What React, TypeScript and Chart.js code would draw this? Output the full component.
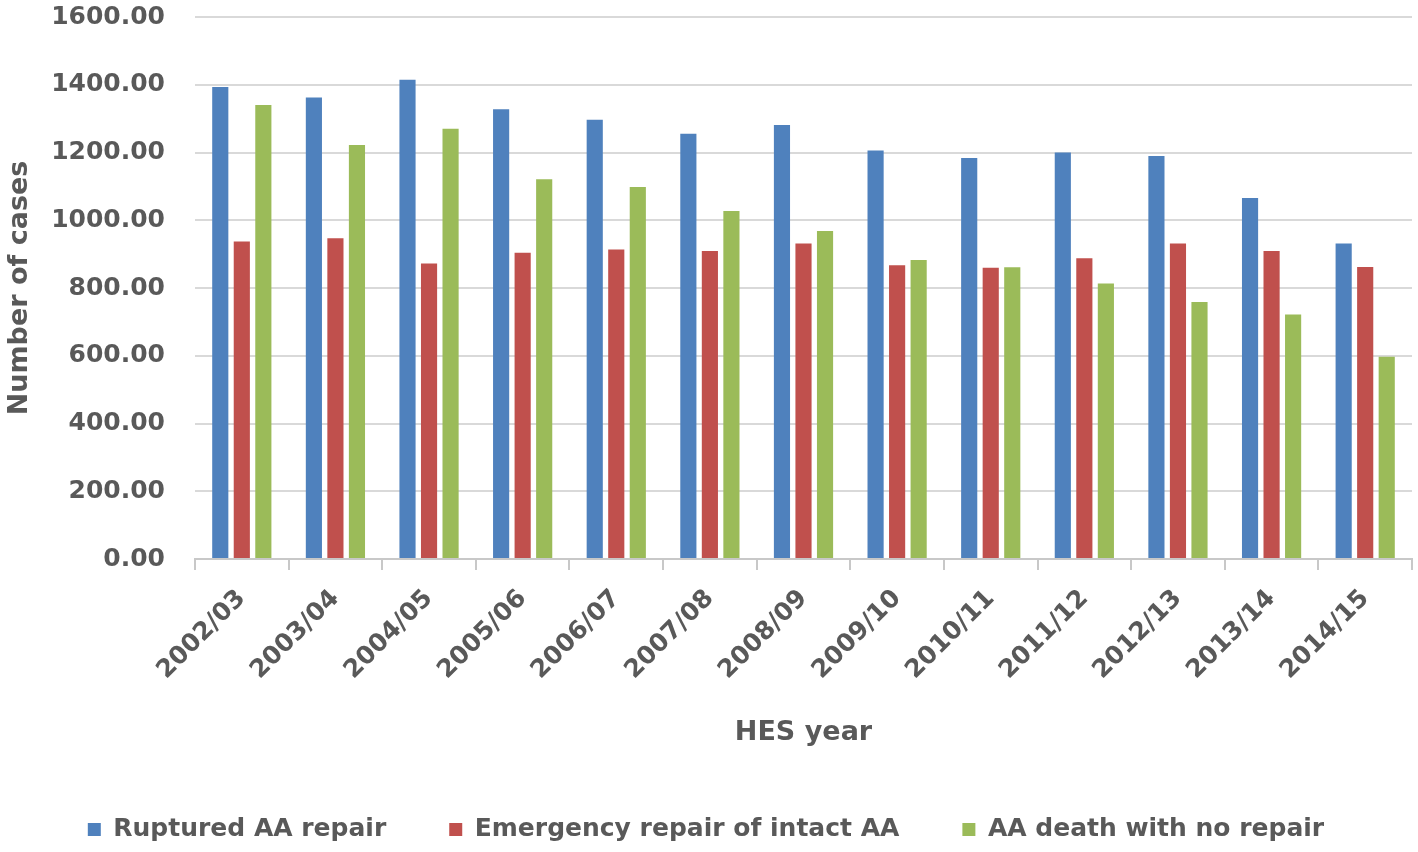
import React, { useEffect, useRef } from "react";
import { Chart, registerables } from "chart.js";

Chart.register(...registerables);

const categories = [
  "2002/03", "2003/04", "2004/05", "2005/06", "2006/07", "2007/08", "2008/09",
  "2009/10", "2010/11", "2011/12", "2012/13", "2013/14", "2014/15",
];
const rupturedRepair = [1393, 1362, 1415, 1328, 1297, 1255, 1281, 1206, 1184, 1200, 1190, 1066, 931];
const emergencyIntact = [937, 947, 872, 904, 914, 909, 931, 867, 860, 888, 931, 909, 862];
const deathNoRepair = [1340, 1222, 1270, 1121, 1098, 1027, 968, 883, 861, 813, 759, 722, 597];
const seriesNames = ["Ruptured AA repair", "Emergency repair of intact AA", "AA death with no repair"];
const seriesColors = ["#4F81BD", "#C0504D", "#9BBB59"];

const FONT = "'DejaVu Sans', sans-serif";
const TEXT = "#595959";

export default function App() {
  const ref = useRef<HTMLCanvasElement | null>(null);

  useEffect(() => {
    if (!ref.current) return;
    const values = [rupturedRepair, emergencyIntact, deathNoRepair];
    const chart = new Chart(ref.current, {
      type: "bar",
      data: {
        labels: categories,
        datasets: values.map((v, i) => ({
          label: seriesNames[i],
          data: v,
          backgroundColor: seriesColors[i],
          borderWidth: 0,
          categoryPercentage: 0.69,
          barPercentage: 0.75,
        })),
      },
      options: {
        animation: false,
        responsive: false,
        maintainAspectRatio: false,
        layout: { padding: { top: 17, right: 6, left: 0, bottom: 0 } },
        plugins: {
          tooltip: { enabled: false },
          legend: {
            position: "bottom",
            labels: {
              boxWidth: 13,
              boxHeight: 13,
              padding: 63,
              color: TEXT,
              font: { family: FONT, size: 25, weight: "bold" },
            },
          },
        },
        scales: {
          x: {
            afterFit: (s: any) => { s.height = 195; },
            grid: {
              display: true,
              drawOnChartArea: false,
              drawTicks: true,
              tickLength: 11,
              color: "#C8C8C8",
              lineWidth: 2,
              offset: true,
            },
            border: { display: true, color: "#C8C8C8", width: 2 },
            ticks: {
              autoSkip: false,
              maxRotation: 45,
              minRotation: 45,
              padding: 14,
              color: TEXT,
              font: { family: FONT, size: 25, weight: "bold" },
            },
            title: {
              display: true,
              text: "HES year",
              color: TEXT,
              font: { family: FONT, size: 27, weight: "bold" },
              padding: { top: 0, bottom: 5 },
            },
          },
          y: {
            min: 0,
            max: 1600,
            afterFit: (s: any) => { s.width = 195; },
            grid: {
              color: "#D9D9D9",
              lineWidth: 2,
              drawTicks: true,
              tickLength: 30,
              tickColor: "rgba(0,0,0,0)",
            },
            border: { display: false },
            ticks: {
              stepSize: 200,
              padding: 0,
              color: TEXT,
              font: { family: FONT, size: 25, weight: "bold" },
              callback: (v: any) => Number(v).toFixed(2),
            },
            title: {
              display: true,
              text: "Number of cases",
              color: TEXT,
              font: { family: FONT, size: 27, weight: "bold" },
              padding: { top: 4, bottom: 4 },
            },
          },
        },
      },
    });
    return () => chart.destroy();
  }, []);

  return (
    <div style={{ position: "absolute", left: 0, top: 0, width: 1418, height: 852, background: "#fff" }}>
      <canvas ref={ref} width={1418} height={852} style={{ width: 1418, height: 852 }} />
    </div>
  );
}
